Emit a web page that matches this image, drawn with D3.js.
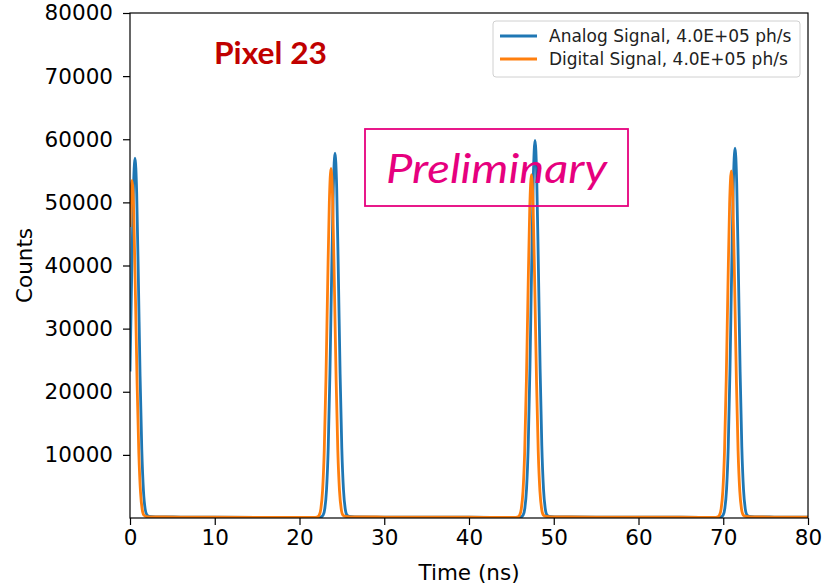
<!DOCTYPE html>
<html><head><meta charset="utf-8">
<script src="https://cdn.jsdelivr.net/npm/d3@7"></script>
<style>body{margin:0;background:#fff}svg{display:block}</style>
</head><body>
<svg id="c" width="823" height="586"></svg>
<script>
const xTicks = [0,10,20,30,40,50,60,70,80];
const yTicks = [10000,20000,30000,40000,50000,60000,70000,80000];
const seriesNames = ["Analog Signal, 4.0E+05 ph/s","Digital Signal, 4.0E+05 ph/s"];
const seriesColors = ["#1f77b4","#ff7f0e"];
const analogT = [0,0.19,0.39,0.59,0.79,0.99,1.19,1.39,1.59,1.79,1.99,2.3,3,6,10,20,
 22.19,22.49,22.79,22.99,23.19,23.39,23.59,23.79,23.99,24.19,24.39,24.59,24.79,24.99,25.19,25.39,25.59,25.89,26.5,30,40,45.5,
 45.79,46.09,46.39,46.59,46.79,46.99,47.19,47.39,47.59,47.79,47.99,48.19,48.39,48.59,48.79,48.99,49.19,49.49,50.1,55,65,69.1,
 69.39,69.69,69.99,70.19,70.39,70.59,70.79,70.99,71.19,71.39,71.59,71.79,71.99,72.19,72.39,72.59,72.79,73.09,73.7,76,80];
const analogV = [23200,37700,51400,57000,51400,37700,22500,10900,4300,1400,500,250,180,150,120,100,
 100,130,460,1500,4470,11140,22930,38310,52240,57800,52240,38310,22930,11140,4470,1500,500,250,180,150,120,100,
 100,130,470,1550,4620,11520,23720,39630,54040,59800,54040,39630,23720,11520,4620,1550,500,250,180,150,120,100,
 100,130,470,1520,4530,11290,23250,38830,52960,58600,52960,38830,23250,11290,4530,1520,500,250,180,150,130];
const digitalT = [0,0.04,0.24,0.44,0.64,0.84,1.04,1.24,1.44,1.64,1.94,2.5,6,10,20,
 21.72,22.02,22.32,22.52,22.72,22.92,23.12,23.32,23.52,23.72,23.92,24.12,24.32,24.52,24.72,24.92,25.12,25.42,26,30,40,45,
 45.37,45.67,45.97,46.17,46.37,46.57,46.77,46.97,47.17,47.37,47.57,47.77,47.97,48.17,48.37,48.57,48.77,49.07,49.7,55,65,68.7,
 68.95,69.25,69.55,69.75,69.95,70.15,70.35,70.55,70.75,70.95,71.15,71.35,71.55,71.75,71.95,72.15,72.35,72.65,73.3,76,80];
const digitalV = [46100,48300,53500,48300,35400,21200,10300,4100,1350,450,230,170,150,120,100,
 100,130,450,1450,4290,10680,21980,36720,50070,55400,50070,36720,21980,10680,4290,1450,480,250,180,150,120,100,
 100,130,440,1420,4210,10490,21590,36060,49170,54400,49170,36060,21590,10490,4210,1420,480,250,180,150,120,100,
 100,130,450,1440,4260,10610,21830,36460,49710,55000,49710,36460,21830,10610,4260,1440,480,250,180,150,130];

const svg = d3.select("#c");
const L=130, R=808, T=13, B=518;
const x = d3.scaleLinear().domain([0,80]).range([L,R]);
const y = d3.scaleLinear().domain([0,80000]).range([B,T]);
const font = "DejaVu Sans, sans-serif";

svg.append("defs").append("clipPath").attr("id","clip")
  .append("rect").attr("x",L).attr("y",T).attr("width",R-L).attr("height",B-T);

const line = d3.line().x(d=>x(d[0])).y(d=>y(d[1])).curve(d3.curveMonotoneX);
const data = [d3.zip(analogT,analogV), d3.zip(digitalT,digitalV)];
const g = svg.append("g").attr("clip-path","url(#clip)");
data.forEach((d,i)=>{
  g.append("path").datum(d).attr("d",line).attr("fill","none")
   .attr("stroke",seriesColors[i]).attr("stroke-width",2.8).attr("stroke-linejoin","round");
});

// frame
svg.append("rect").attr("x",L).attr("y",T).attr("width",R-L).attr("height",B-T)
  .attr("fill","none").attr("stroke","#000").attr("stroke-width",1.2);

const xa = svg.append("g").attr("transform",`translate(0,${B})`)
  .call(d3.axisBottom(x).tickValues(xTicks).tickSize(7).tickPadding(5).tickFormat(d3.format("d")));
const ya = svg.append("g").attr("transform",`translate(${L},0)`)
  .call(d3.axisLeft(y).tickValues(yTicks).tickSize(7).tickPadding(10).tickFormat(d3.format("d")));
[xa,ya].forEach(a=>{
  a.select(".domain").remove();
  a.selectAll(".tick line").attr("stroke","#000").attr("stroke-width",1.2);
  a.selectAll(".tick text").attr("font-family",font).attr("font-size",21.5).attr("fill","#000");
});

svg.append("text").attr("x",(L+R)/2).attr("y",580).attr("text-anchor","middle")
  .attr("font-family",font).attr("font-size",21.5).text("Time (ns)");
svg.append("text").attr("transform",`translate(32,${(T+B)/2}) rotate(-90)`).attr("text-anchor","middle")
  .attr("font-family",font).attr("font-size",21.5).text("Counts");

// legend
const lg = svg.append("g");
lg.append("rect").attr("x",493).attr("y",21).attr("width",307).attr("height",56).attr("rx",3)
  .attr("fill","#fff").attr("fill-opacity",0.8).attr("stroke","#d0d0d0").attr("stroke-width",1);
seriesNames.forEach((n,i)=>{
  const yy = 36 + i*23;
  lg.append("line").attr("x1",500).attr("x2",537).attr("y1",yy).attr("y2",yy)
    .attr("stroke",seriesColors[i]).attr("stroke-width",2.8);
  lg.append("text").attr("x",549).attr("y",yy+6).attr("font-family",font).attr("font-size",17)
    .attr("fill","#222").text(n);
});

// annotations
svg.append("text").attr("x",214).attr("y",64).attr("font-family","Lato, 'Open Sans', sans-serif")
  .attr("font-weight","bold").attr("font-size",30).attr("fill","#c00000")
  .attr("textLength",113).attr("lengthAdjust","spacingAndGlyphs").text("Pixel 23");
svg.append("rect").attr("x",365).attr("y",129).attr("width",263).attr("height",77)
  .attr("fill","none").attr("stroke","#e6007e").attr("stroke-width",1.8);
svg.append("text").attr("x",386).attr("y",183).attr("font-family","Lato, 'Open Sans', sans-serif")
  .attr("font-style","italic").attr("font-size",41).attr("fill","#e6007e")
  .attr("textLength",221).attr("lengthAdjust","spacingAndGlyphs").text("Preliminary");
</script>
</body></html>
